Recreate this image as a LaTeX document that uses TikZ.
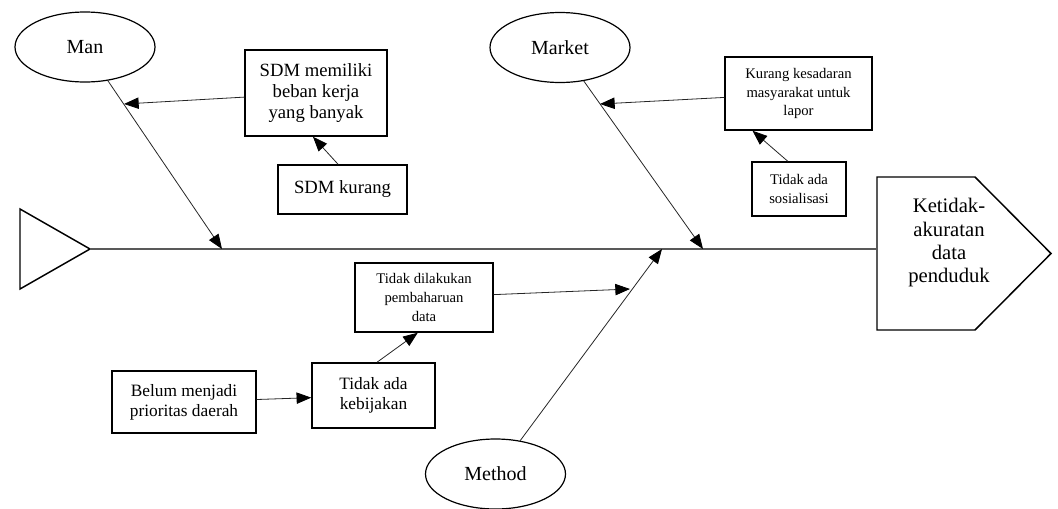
\documentclass[tikz,border=0pt]{standalone}
\usepackage{fontspec}
\setmainfont{Liberation Serif}
\usetikzlibrary{
  positioning,
  arrows.meta,
  shapes.geometric
}

\begin{document}
\begin{tikzpicture}[
  x=0.75pt, y=-0.75pt,
  cat/.style={draw, ellipse, line width=0.9pt, minimum width=105pt, minimum height=52.5pt,
              inner sep=0pt, font=\fontsize{15}{17}\selectfont},
  cause/.style={draw, line width=1.1pt, inner sep=0pt, align=center},
  bone/.style={draw=black!85, line width=0.6pt,
               -{Triangle[length=11pt, width=8.5pt, fill=black, color=black]}},
  spine/.style={draw=black!65, line width=1pt},
]
  \useasboundingbox (0,0) rectangle (1058,508);

  % tail and head of the fish
  \draw[line width=1.1pt] (20,209) -- (90,249) -- (20,289) -- cycle;
  \coordinate (tail) at (90,249);
  \coordinate (headin) at (877,249);
  \draw[line width=1.1pt] (877,177) -- (975,177) -- (1051,253.5) -- (975,330) -- (877,330) -- cycle;
  \node[align=center, font=\fontsize{15.5}{17.5}\selectfont] (head) at (949,243) {
    Ketidak-\\akuratan\\data\\penduduk
  };
  \draw[spine] (tail) -- (headin);

  % categories
  \node[cat] (man) at (85,47) {Man};
  \node[cat] (market) at (560,47.5) {Market};
  \node[cat] (method) at (495.5,474) {Method};

  \coordinate (mantip) at (222,249);
  \coordinate (markettip) at (703,249);
  \coordinate (methodtip) at (662,249);
  \draw[bone] (man) -- (mantip);
  \draw[bone] (market) -- (markettip);
  \draw[bone] (method) -- (methodtip);

  \coordinate (manhit) at (124,104);
  \coordinate (markethit) at (600,104);
  \coordinate (methodhit) at (630,289);

  % causes
  \node[cause, minimum width=106.5pt, minimum height=64.5pt, font=\fontsize{14}{15.5}\selectfont]
    (beban) at (316,93) {SDM memiliki\\beban kerja\\yang banyak};
  \node[cause, minimum width=96.75pt, minimum height=36.75pt, font=\fontsize{14}{15.5}\selectfont]
    (sdmkurang) at (342.5,189.5) {SDM kurang};

  \node[cause, minimum width=110.25pt, minimum height=54.75pt, font=\fontsize{11}{14}\selectfont]
    (kesadaran) at (798.5,93.5) {Kurang kesadaran\\masyarakat untuk\\lapor};
  \node[cause, minimum width=70.5pt, minimum height=40.5pt, font=\fontsize{11}{14}\selectfont]
    (sosialisasi) at (799,189) {Tidak ada\\sosialisasi};

  \node[cause, minimum width=103.5pt, minimum height=51.75pt, font=\fontsize{11}{14}\selectfont]
    (pembaharuan) at (424,297.5) {Tidak dilakukan\\pembaharuan\\data};
  \node[cause, minimum width=92.25pt, minimum height=48.75pt, font=\fontsize{13}{15}\selectfont]
    (kebijakan) at (373.5,395.5) {Tidak ada\\kebijakan};
  \node[cause, minimum width=108pt, minimum height=46.5pt, font=\fontsize{13}{15}\selectfont]
    (prioritas) at (184,402) {Belum menjadi\\prioritas daerah};

  \draw[bone] (beban) -- (manhit);
  \draw[bone] (sdmkurang.100) -- (beban.266);
  \draw[bone] (kesadaran) -- (markethit);
  \draw[bone] (sosialisasi.112) -- (kesadaran.219);
  \draw[bone] (pembaharuan) -- (methodhit);
  \draw[bone] (kebijakan.84) -- (pembaharuan.260);
  \draw[bone] (prioritas) -- (kebijakan);
\end{tikzpicture}
\end{document}
